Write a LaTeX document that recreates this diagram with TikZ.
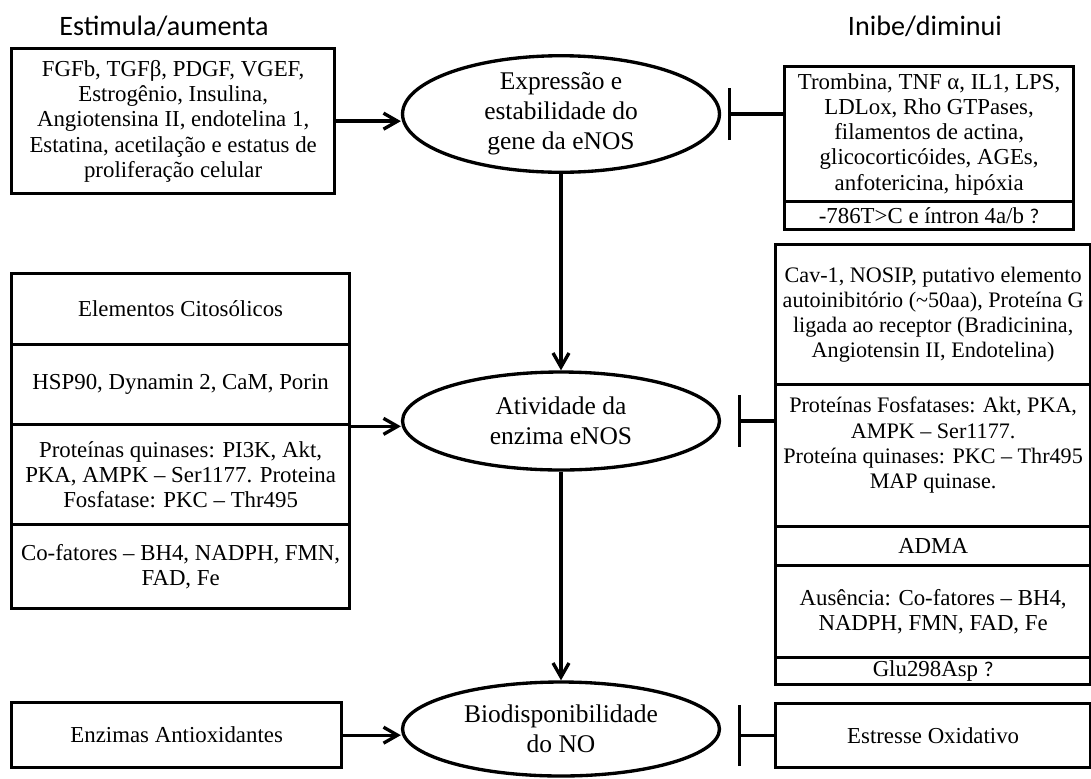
\documentclass[tikz,border=0pt]{standalone}
\usepackage{fontspec}
\setmainfont{Liberation Serif}
\newfontfamily\titfont{Carlito}
\usepackage{tikz}
\usetikzlibrary{shapes, arrows.meta, positioning}

\begin{document}
\begin{tikzpicture}[x=0.02cm, y=-0.02cm, line width=1.9pt,
        caixa/.style={draw, rectangle, anchor=north west, align=center, inner sep=1pt, font=\fontsize{13}{14.4}\selectfont},
        elipse/.style={draw, ellipse, minimum width=6.34cm, minimum height=1.96cm, inner sep=0pt, align=center, font=\fontsize{14.5}{17}\selectfont},
        titulo/.style={font=\titfont\fontsize{16}{19}\selectfont},
        seta/.style={-{Straight Barb[length=0.28cm, width=0.32cm]}},
        inibe/.style={-{Bar[width=1.04cm]}}]
        \useasboundingbox (0,0) rectangle (1091,778);

        % titulos
        \node [titulo] (estimula) at (164, 26) {Estimula/aumenta};
        \node [titulo] (inibe) at (925, 26) {Inibe/diminui};

        % elipses centrais
        \node [elipse] (expr) at (561, 114) {Expressão e\\estabilidade do\\gene da eNOS};
        \node [elipse] (ativ) at (561, 421) {Atividade da\\enzima eNOS};
        \node [elipse, minimum height=1.88cm] (bio) at (561, 729) {Biodisponibilidade\\do NO};

        % lado esquerdo
        \node [caixa, minimum width=6.46cm, minimum height=2.9cm] (fatores) at (10, 47) {FGFb, TGFβ, PDGF, VGEF,\\Estrogênio, Insulina,\\Angiotensina II, endotelina 1,\\Estatina, acetilação e estatus de\\proliferação celular};
        \node [caixa, minimum width=6.76cm, minimum height=1.42cm] (cito) at (10, 272) {Elementos Citosólicos};
        \node [caixa, minimum width=6.76cm, minimum height=1.6cm] (hsp) at (10, 343) {HSP90, Dynamin 2, CaM, Porin};
        \node [caixa, minimum width=6.76cm, minimum height=2.0cm] (quin) at (10, 423) {Proteínas quinases: PI3K, Akt,\\PKA, AMPK -- Ser1177. Proteina\\Fosfatase: PKC -- Thr495};
        \node [caixa, minimum width=6.76cm, minimum height=1.68cm] (cof) at (10, 523) {Co-fatores -- BH4, NADPH, FMN,\\FAD, Fe};
        \node [caixa, minimum width=6.6cm, minimum height=1.3cm] (antiox) at (10, 701) {Enzimas Antioxidantes};

        % lado direito
        \node [caixa, minimum width=5.78cm, minimum height=2.7cm] (trombina) at (783, 65) {Trombina, TNF α, IL1, LPS,\\LDLox, Rho GTPases,\\filamentos de actina,\\glicocorticóides, AGEs,\\anfotericina, hipóxia};
        \node [caixa, minimum width=5.78cm, minimum height=0.56cm] (snp) at (783, 200) {-786T>C e íntron 4a/b {\titfont\large ?}};
        \node [caixa, minimum width=6.3cm, minimum height=2.8cm, font=\fontsize{12.6}{14.4}\selectfont] (cav) at (774, 243) {Cav-1, NOSIP, putativo elemento\\autoinibitório (\textasciitilde50aa), Proteína G\\ligada ao receptor (Bradicinina,\\Angiotensin II, Endotelina)};
        \node [caixa, minimum width=6.3cm, minimum height=2.84cm, font=\fontsize{12.6}{14.4}\selectfont] (fosf) at (774, 383) {Proteínas Fosfatases: Akt, PKA,\\AMPK -- Ser1177.\\Proteína quinases: PKC -- Thr495\\MAP quinase.\\\mbox{}};
        \node [caixa, minimum width=6.3cm, minimum height=0.78cm] (adma) at (774, 525) {ADMA};
        \node [caixa, minimum width=6.3cm, minimum height=1.84cm] (ausencia) at (774, 564) {Ausência: Co-fatores -- BH4,\\NADPH, FMN, FAD, Fe};
        \node [caixa, minimum width=6.3cm, minimum height=0.54cm] (glu) at (774, 656) {Glu298Asp {\titfont\large ?}};
        \node [caixa, minimum width=6.3cm, minimum height=1.28cm] (estresse) at (774, 702) {Estresse Oxidativo};

        % ligacoes
        \draw [seta] (fatores.east) -- (fatores.east -| expr.west);
        \draw [seta] (hsp.south east) -- (hsp.south east -| ativ.west);
        \draw [seta] (antiox.east) -- (antiox.east -| bio.west);
        \draw [seta] (expr.south) -- (ativ.north);
        \draw [seta] (ativ.south) -- (bio.north);
        \draw [inibe, shorten >=0.14cm] (trombina.west |- expr.east) -- (expr.east);
        \draw [inibe, shorten >=0.34cm] (fosf.west |- ativ.east) -- (ativ.east);
        \draw [inibe, -{Bar[width=1.22cm]}, shorten >=0.34cm] (estresse.west) -- (estresse.west -| bio.east);
    \end{tikzpicture}
\end{document}
